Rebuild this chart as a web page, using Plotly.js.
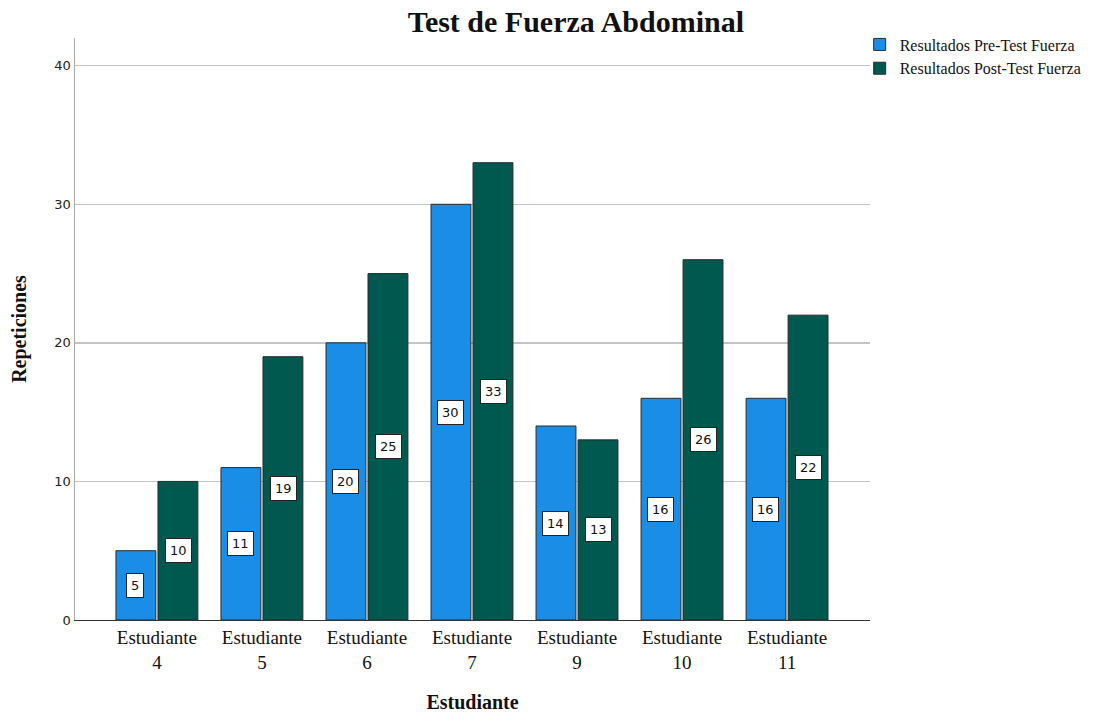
<!DOCTYPE html>
<html>
<head>
<meta charset="utf-8">
<script src="https://cdn.plot.ly/plotly-3.0.1.min.js"></script>
<style>html,body{margin:0;padding:0;background:#fff;}#chart{width:1109px;height:713px;}</style>
</head>
<body>
<div id="chart"></div>
<script>
const categories = ["Estudiante<br>4","Estudiante<br>5","Estudiante<br>6","Estudiante<br>7","Estudiante<br>9","Estudiante<br>10","Estudiante<br>11"];
const preTest = [5, 11, 20, 30, 14, 16, 16];
const postTest = [10, 19, 25, 33, 13, 26, 22];
const seriesNames = ["Resultados Pre-Test Fuerza", "Resultados Post-Test Fuerza"];
const colors = ["#1a8de6", "#00594f"];

const traces = [preTest, postTest].map((vals, i) => ({
  type: "bar",
  x: categories,
  y: vals,
  name: seriesNames[i],
  marker: {color: colors[i], line: {color: "#2b2b2b", width: 1}},
  hoverinfo: "y"
}));

const annotations = [];
[preTest, postTest].forEach((vals, s) => {
  vals.forEach((v, i) => {
    annotations.push({
      x: i + (s === 0 ? -0.205 : 0.205),
      y: v / 2,
      xref: "x", yref: "y",
      text: String(v),
      showarrow: false,
      bgcolor: "#ffffff",
      bordercolor: "#222",
      borderwidth: 1,
      borderpad: 4,
      font: {family: "DejaVu Sans, sans-serif", size: 13, color: "#111"}
    });
  });
});

const serif = "Liberation Serif, serif";
const layout = {
  width: 1109, height: 713,
  margin: {l: 75, r: 239, t: 38, b: 93},
  paper_bgcolor: "#fff", plot_bgcolor: "#fff",
  title: {
    text: "<b>Test de Fuerza Abdominal</b>",
    font: {family: serif, size: 30, color: "#111"},
    x: 0.63, xanchor: "center", xref: "paper", y: 0.97, yanchor: "middle"
  },
  barmode: "group",
  bargap: 0.2,
  bargroupgap: 0.05,
  xaxis: {
    type: "category",
    range: [-0.78, 6.79],
    showgrid: false,
    showline: true, linecolor: "#333", linewidth: 1,
    ticks: "",
    tickfont: {family: serif, size: 19, color: "#111"},
    title: {text: "<b>Estudiante</b>", font: {family: serif, size: 20, color: "#111"}, standoff: 25},
    fixedrange: true
  },
  yaxis: {
    range: [0, 42],
    tickvals: [0, 10, 20, 30, 40],
    showgrid: true, gridcolor: "#c4c4c4", gridwidth: 1.5,
    showline: true, linecolor: "#aaa", linewidth: 1.5,
    zeroline: false,
    ticks: "", ticklen: 0,
    tickfont: {family: "DejaVu Sans, sans-serif", size: 13, color: "#222"},
    title: {text: "<b>Repeticiones</b>", font: {family: serif, size: 20, color: "#111"}, standoff: 22},
    fixedrange: true
  },
  showlegend: true,
  legend: {
    x: 0.987, y: 1.018, xanchor: "left", yanchor: "top",
    font: {family: serif, size: 16, color: "#111"},
    tracegroupgap: 0, itemwidth: 30,
    bgcolor: "rgba(0,0,0,0)"
  },
  annotations: annotations
};

Plotly.newPlot("chart", traces, layout, {displayModeBar: false, staticPlot: true});
</script>
</body>
</html>
